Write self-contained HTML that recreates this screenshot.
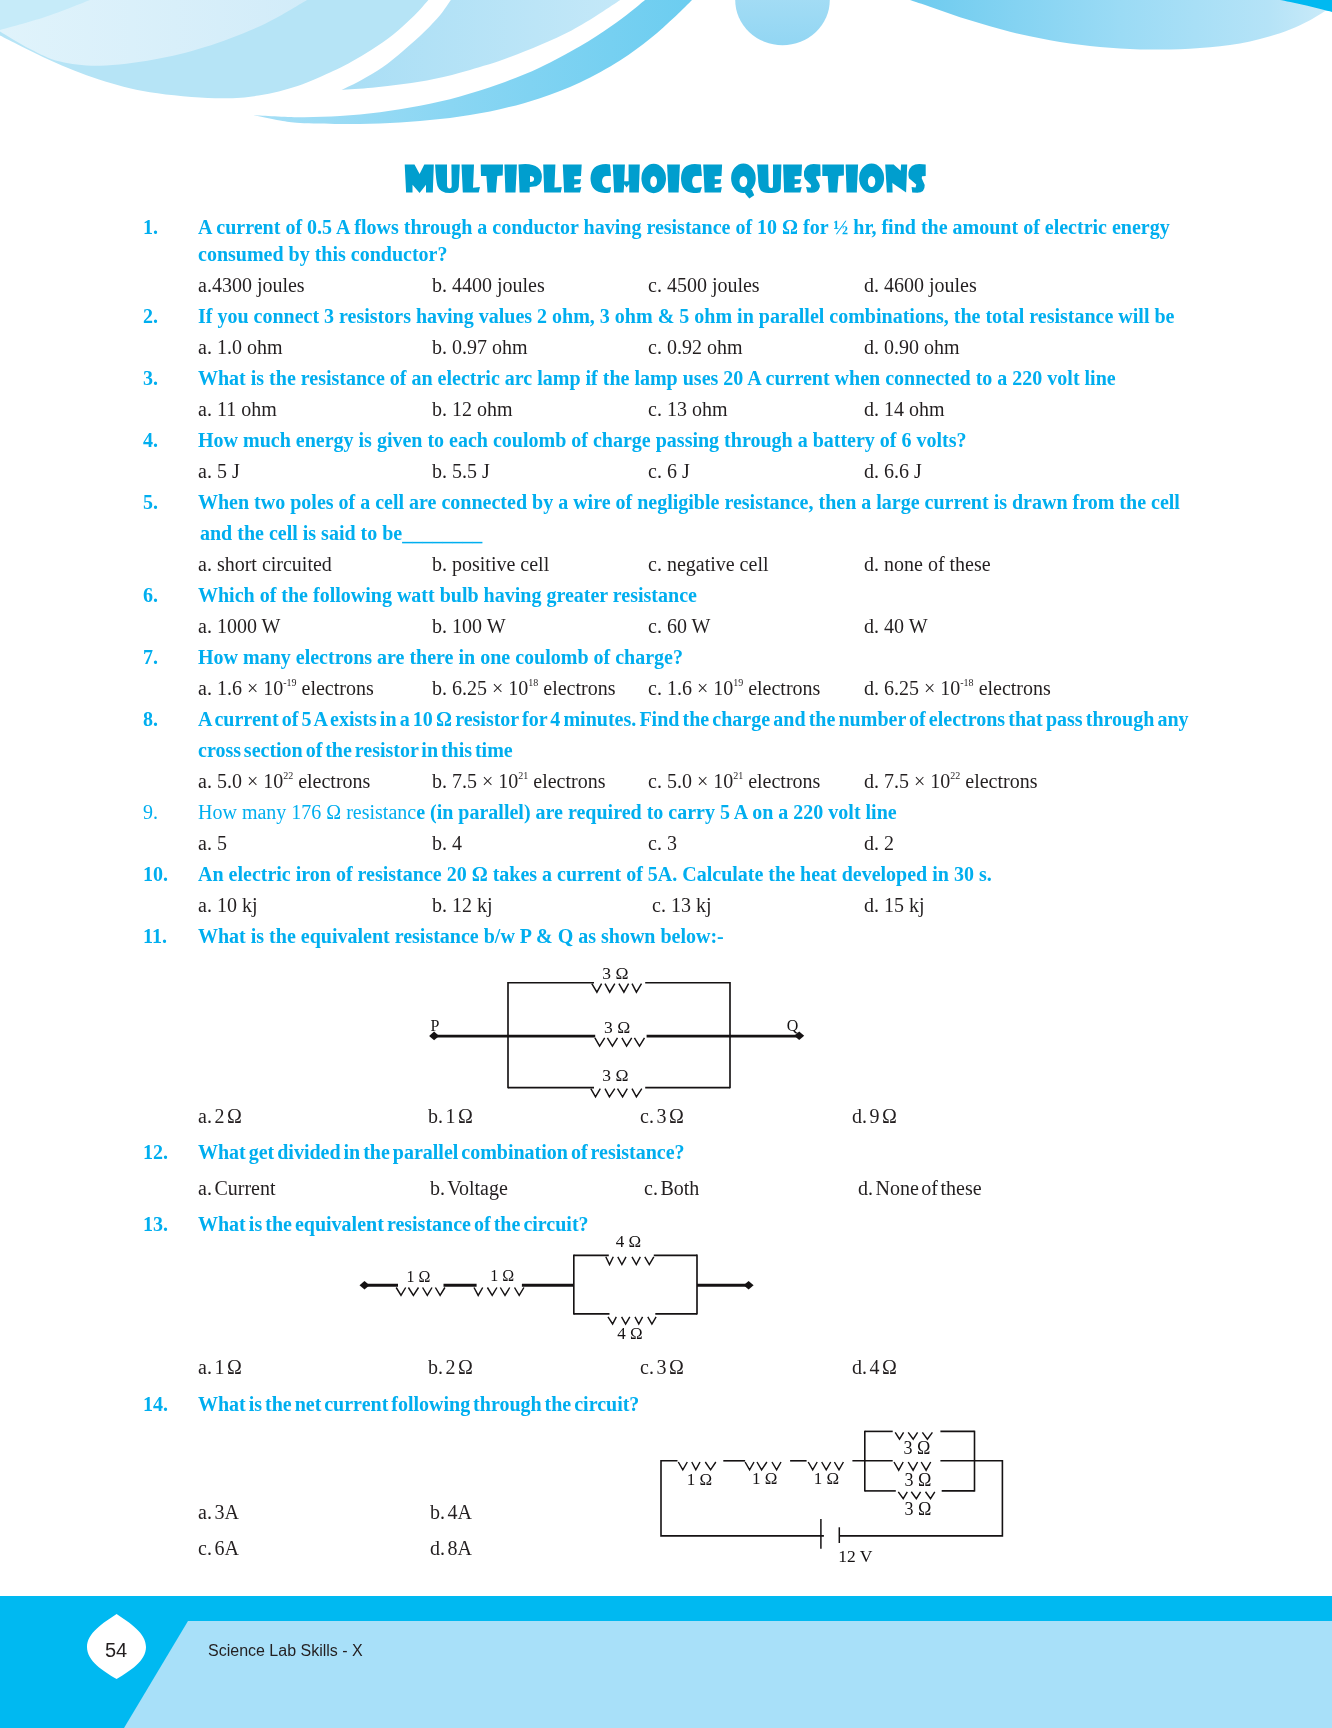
<!DOCTYPE html>
<html><head><meta charset="utf-8"><title>Multiple Choice Questions</title>
<style>
html,body{margin:0;padding:0;background:#fff;-webkit-font-smoothing:antialiased}
body{width:1332px;height:1728px;position:relative;overflow:hidden}
.t{will-change:transform;position:absolute;white-space:nowrap;font-family:"Liberation Serif",serif;font-size:20px;line-height:20px}
.b{font-weight:bold;color:#00aeef}
.r{font-weight:normal;color:#231f20}
.bl{color:#00aeef}
sup{font-size:10px;vertical-align:0;position:relative;top:-9px;line-height:0}
svg{position:absolute;left:0;top:0}
</style></head><body>
<svg width="1332" height="140" viewBox="0 0 1332 140">
<defs>
<linearGradient id="gC" x1="0" y1="0" x2="1" y2="0"><stop offset="0" stop-color="#a6dff6"/><stop offset="0.45" stop-color="#8ad6f3"/><stop offset="1" stop-color="#6ccdf0"/></linearGradient>
<linearGradient id="gE" x1="0" y1="0" x2="1" y2="0"><stop offset="0" stop-color="#6dcbef"/><stop offset="0.5" stop-color="#9bdbf5"/><stop offset="0.85" stop-color="#b5e3f7"/><stop offset="1" stop-color="#cbebf9"/></linearGradient>
<linearGradient id="gD" x1="0" y1="0" x2="0" y2="1"><stop offset="0" stop-color="#b3e2f6"/><stop offset="1" stop-color="#92d6f3"/></linearGradient>
<linearGradient id="gB" x1="0" y1="0" x2="1" y2="0"><stop offset="0" stop-color="#a9def5"/><stop offset="1" stop-color="#c4e8f8"/></linearGradient>
<linearGradient id="gCr" x1="0" y1="0" x2="1" y2="0"><stop offset="0" stop-color="#e0f3fb"/><stop offset="1" stop-color="#d2ecf9"/></linearGradient>
</defs>
<path d="M0 0 L428.4 0 C426.0 2.6 420.0 10.0 414.1 15.8 C408.2 21.6 400.0 29.1 393.0 34.7 C386.0 40.3 379.0 44.9 372.0 49.4 C365.0 53.9 358.0 58.1 351.0 62.0 C344.0 65.8 338.9 68.5 330.0 72.5 C321.1 76.5 309.5 82.1 297.6 85.9 C285.7 89.8 272.4 93.5 258.6 95.6 C244.8 97.6 233.1 98.8 215.0 98.2 C196.9 97.7 169.3 95.4 150.0 92.3 C130.7 89.2 115.8 85.0 99.0 79.6 C82.2 74.2 66.0 67.3 49.5 60.0 C33.0 52.7 8.2 39.7 0.0 35.6 Z" fill="#b6e4f6"/>
<path d="M0 31.5 C5.0 34.4 20.0 44.0 30.0 49.0 C40.0 54.0 48.3 58.8 60.0 61.6 C71.7 64.4 84.3 66.1 100.0 65.8 C115.7 65.5 136.5 62.6 154.0 59.5 C171.5 56.4 187.0 52.7 205.0 47.0 C223.0 41.3 245.0 33.0 262.0 25.2 C279.0 17.4 299.5 4.2 307.0 0.0 L0 0 Z" fill="url(#gCr)"/>
<path d="M0 0 L90 0 C82.5 2.8 60.0 12.0 45.0 17.0 C30.0 22.0 7.5 27.8 0.0 30.0 Z" fill="#c6ebf9"/>
<path d="M341.6 89.9 C344.9 88.2 354.7 83.7 361.5 79.9 C368.3 76.1 375.6 72.2 382.6 67.3 C389.6 62.4 396.6 56.5 403.6 50.5 C410.6 44.5 418.5 37.5 424.6 31.5 C430.7 25.5 436.0 19.9 440.4 14.7 C444.8 9.4 449.1 2.4 450.9 0.0 L620.3 0 C612.2 5.1 589.9 20.9 571.6 30.4 C553.4 39.9 527.7 50.2 510.8 56.8 C493.9 63.4 482.6 66.2 470.0 69.9 C457.4 73.6 446.2 76.4 435.1 78.8 C424.0 81.2 414.1 82.6 403.6 84.1 C393.1 85.6 382.3 86.8 372.0 87.8 C361.7 88.8 346.7 89.6 341.6 89.9 Z" fill="url(#gB)"/>
<path d="M253.7 115.2 C261.4 115.5 285.6 117.1 300.0 117.2 C314.4 117.3 326.7 116.9 340.0 116.1 C353.3 115.3 366.7 114.0 380.0 112.3 C393.3 110.6 406.7 108.4 420.0 105.8 C433.3 103.2 446.7 100.2 460.0 96.5 C473.3 92.8 486.7 88.6 500.0 83.8 C513.3 79.0 526.7 73.7 540.0 67.4 C553.3 61.2 568.3 53.0 580.0 46.3 C591.7 39.6 601.7 32.7 610.0 27.0 C618.3 21.3 624.2 16.7 630.0 12.2 C635.8 7.7 642.5 2.0 645.0 0.0 L692 0 C689.2 2.8 682.0 10.2 675.0 16.7 C668.0 23.1 659.2 31.4 650.0 38.7 C640.8 46.0 631.7 53.1 620.0 60.4 C608.3 67.7 593.3 76.1 580.0 82.4 C566.7 88.7 553.3 93.7 540.0 98.2 C526.7 102.7 513.3 106.2 500.0 109.2 C486.7 112.2 473.3 114.5 460.0 116.5 C446.7 118.5 433.3 119.8 420.0 121.0 C406.7 122.2 393.3 122.9 380.0 123.4 C366.7 123.9 353.3 124.0 340.0 124.0 C326.7 124.0 310.0 123.7 300.0 123.1 C290.0 122.5 287.7 121.8 280.0 120.5 C272.3 119.2 258.1 116.1 253.7 115.2 Z" fill="url(#gC)"/>
<ellipse cx="782.5" cy="0" rx="47.3" ry="45.2" fill="url(#gD)"/>
<path d="M910 0 C913.3 1.1 923.3 4.4 930.0 6.7 C936.7 9.0 943.3 11.4 950.0 13.7 C956.7 16.0 963.3 18.2 970.0 20.3 C976.7 22.4 983.3 24.4 990.0 26.3 C996.7 28.2 1003.3 30.0 1010.0 31.7 C1016.7 33.4 1023.3 34.9 1030.0 36.3 C1036.7 37.7 1043.3 39.0 1050.0 40.2 C1056.7 41.4 1063.3 42.5 1070.0 43.4 C1076.7 44.3 1083.3 45.2 1090.0 45.9 C1096.7 46.6 1103.3 47.2 1110.0 47.7 C1116.7 48.2 1123.3 48.6 1130.0 48.9 C1136.7 49.2 1143.3 49.4 1150.0 49.5 C1156.7 49.6 1163.3 49.6 1170.0 49.5 C1176.7 49.4 1183.3 49.2 1190.0 48.8 C1196.7 48.4 1203.3 47.9 1210.0 47.3 C1216.7 46.6 1223.3 45.9 1230.0 44.9 C1236.7 43.9 1243.3 42.8 1250.0 41.4 C1256.7 40.0 1263.3 38.3 1270.0 36.3 C1276.7 34.3 1283.3 32.2 1290.0 29.5 C1296.7 26.8 1303.3 23.8 1310.0 20.2 C1316.7 16.6 1326.7 10.1 1330.0 8.1 L1332 0 Z" fill="url(#gE)"/>
<path d="M1280 0 C1284.3 0.8 1295.4 3.0 1304.0 5.0 C1312.6 7.0 1327.3 10.8 1332.0 11.9 L1332 0 Z" fill="#00b9f1"/>
</svg>

<svg width="1332" height="220" style="position:absolute;left:0;top:0">
<g fill="#009ece" fill-rule="evenodd">
<path d="M404.7 164.4 L414.5 164.4 L419.6 173.9 L424.3 164.4 L433.8 164.4 L432.8 192.5 L426 192.5 L426 184.7 L419.6 193.1 L412.5 184.7 L412.5 192.5 L406.1 192.5 Z"/>
<path d="M435.1 164.4 L447 164.4 L447 185.5 Q447.3 188.4 449.5 188.4 Q451.7 188.4 451.7 185.5 L451.4 164.4 L459.8 164.4 L458.8 187 Q458 193.1 450 193.1 Q440 193.1 437.5 186 Q436 181 435.1 164.4 Z"/>
<path d="M461.5 164.4 L474 164.4 L473 187.7 L480 187 L478.7 192.5 L462.8 192.5 Z"/>
<path d="M480.7 164.4 L503 164.4 L502.7 175.6 L497.3 175.9 L495.9 192.5 L487.5 192.5 L486.4 175.9 L481 175.9 Z"/>
<path d="M504.4 164.4 L516.9 164.4 L515.5 192.5 L505.4 192.5 Z"/>
<path d="M518.5 164.4 L525.3 164 Q541.9 164.4 541.9 176.9 Q541.9 186.7 532 186.7 L529.7 187 L529.7 192.5 L519.6 192.5 Z M530 175.9 Q534.1 176 534.1 178.8 Q534.1 182 530 182 Z"/>
<path d="M543.2 164.4 L555.4 164.4 L554.4 187.4 L561.8 187 L560.8 192.5 L544.2 192.5 Z"/>
<path d="M562.8 164.4 L581.7 164.4 L581 175.9 L574.2 176.2 L574.2 179.3 L581 179.3 L580 184 L574.2 184.4 L574.2 187.7 L581.3 187 L580 192.5 L564.1 192.5 Z"/>
<path d="M610 164.4 L611 175.9 L606 175.9 Q602 176.5 602 181.6 Q602.5 187.7 606.7 187.7 L611 187 L610 192.5 Q607 193.1 604.6 193.1 Q590.5 192 590.5 178.3 Q591 164.1 606 164.1 Z"/>
<path d="M612.8 164.4 L624.9 164.4 L624.2 181.3 L628.6 181.3 L628.6 164.4 L639.8 164.4 L638.8 192.5 L629.3 192.5 L629.2 184.2 L626.6 187.6 L624.2 184.2 L623.6 192.5 L614.1 192.5 Z"/>
<path d="M666 178.4 A12.3 14.7 0 1 1 641.4 178.4 A12.3 14.7 0 1 1 666 178.4 Z M657 181.5 A3.4 5.6 0 1 0 650.2 181.5 A3.4 5.6 0 1 0 657 181.5 Z"/>
<path d="M667.1 164.4 L679.9 164.4 L678.6 192.5 L668.4 192.5 Z"/>
<path d="M700.9 164.4 L701.9 175.9 L695.5 175.9 Q692.1 176.5 692.1 181.6 Q692.5 187.7 695.5 187.7 L701.9 187 L700.2 192.5 Q697 193.1 693.4 193.1 Q681 192 681 178.3 Q681.5 164.1 694.8 164.1 Z"/>
<path d="M703.2 164.4 L722.1 164.4 L721.5 175.9 L714.7 176.2 L714.7 179.3 L721.1 179.3 L720.5 183.7 L714.7 184 L714.7 187.7 L721.8 187 L720.8 192.5 L704.6 192.5 Z"/>
<path d="M755.7 178.3 A12.3 14.8 0 1 1 731.1 178.3 A12.3 14.8 0 1 1 755.7 178.3 Z M747.3 181.5 A3.9 5.6 0 1 0 739.5 181.5 A3.9 5.6 0 1 0 747.3 181.5 Z"/>
<path d="M744.5 190.5 L752 190 L754.2 195.2 L749.3 198.5 L745.5 194 Z"/>
<path d="M757.1 164.4 L768.2 164.4 L768.6 186 Q769 188 771.6 188 Q773 188 773 186 L773 164.4 L781.4 164.4 L780.7 189 Q779 193.1 771.6 193.1 Q763 193 760.8 190.4 Q758.1 187 758.1 178.3 Z"/>
<path d="M783.1 164.4 L802 164.4 L801.4 175.9 L794.6 176.2 L794.6 179.3 L801 179.3 L800 183.7 L794.6 184 L794.6 187.7 L801.7 187 L800.3 192.5 L784.1 192.5 Z"/>
<path d="M820.3 164.4 L820.6 175.9 L816.2 176.2 L816.2 178.3 L819 183 Q820.5 186.4 819.6 187.5 Q818 192.8 811.5 192.8 L807.4 192.5 L806.1 187 L810.8 187.4 L811.1 185 L805 179 Q803.5 176 804 171.5 Q806 164.1 813.5 164.1 Z"/>
<path d="M822.3 164.4 L843.9 164.4 L843.9 175.6 L838.5 175.9 L837.2 192.5 L828.7 192.5 L827.7 175.9 L822.3 175.9 Z"/>
<path d="M845.6 164.4 L858.1 164.4 L856.8 192.5 L846.6 192.5 Z"/>
<path d="M884.1 178.3 A12.5 14.8 0 1 1 859.1 178.3 A12.5 14.8 0 1 1 884.1 178.3 Z M875.3 181.5 A3.7 5.6 0 1 0 867.9 181.5 A3.7 5.6 0 1 0 875.3 181.5 Z"/>
<path d="M885.2 164.4 L893.6 164.4 L900.7 170.8 L901.1 164.4 L907.2 164.4 L906.1 192.5 L892.3 183 L892.6 192.5 L886.9 192.5 Z"/>
<path d="M925.7 164.4 L925.7 175.9 L922 176.2 L921.7 178.3 L924.7 185 Q925 192.8 917.3 192.8 L912.2 192.5 L911.6 187 L915.6 187.4 L916.3 184.4 L909 178.3 Q908 175 908.5 172.2 Q910 163.9 919.3 163.9 Z"/>
</g>
</svg>

<div class="t b" style="left:143px;top:217px;">1.</div>
<div class="t b" style="left:198px;top:217px;">A current of 0.5 A flows through a conductor having resistance of 10 Ω for ½ hr, find the amount of electric energy</div>
<div class="t b" style="left:198px;top:244px;">consumed by this conductor?</div>
<div class="t r" style="left:198px;top:274.5px;">a.4300 joules</div>
<div class="t r" style="left:432px;top:274.5px;">b. 4400 joules</div>
<div class="t r" style="left:648px;top:274.5px;">c. 4500 joules</div>
<div class="t r" style="left:864px;top:274.5px;">d. 4600 joules</div>
<div class="t b" style="left:143px;top:306px;">2.</div>
<div class="t b" style="left:198px;top:306px;">If you connect 3 resistors having values 2 ohm, 3 ohm &amp; 5 ohm in parallel combinations, the total resistance will be</div>
<div class="t r" style="left:198px;top:337px;">a. 1.0 ohm</div>
<div class="t r" style="left:432px;top:337px;">b. 0.97 ohm</div>
<div class="t r" style="left:648px;top:337px;">c. 0.92 ohm</div>
<div class="t r" style="left:864px;top:337px;">d. 0.90 ohm</div>
<div class="t b" style="left:143px;top:368px;">3.</div>
<div class="t b" style="left:198px;top:368px;">What is the resistance of an electric arc lamp if the lamp uses 20 A current when connected to a 220 volt line</div>
<div class="t r" style="left:198px;top:399px;">a. 11 ohm</div>
<div class="t r" style="left:432px;top:399px;">b. 12 ohm</div>
<div class="t r" style="left:648px;top:399px;">c. 13 ohm</div>
<div class="t r" style="left:864px;top:399px;">d. 14 ohm</div>
<div class="t b" style="left:143px;top:429.5px;">4.</div>
<div class="t b" style="left:198px;top:429.5px;">How much energy is given to each coulomb of charge passing through a battery of 6 volts?</div>
<div class="t r" style="left:198px;top:460.5px;">a. 5 J</div>
<div class="t r" style="left:432px;top:460.5px;">b. 5.5 J</div>
<div class="t r" style="left:648px;top:460.5px;">c. 6 J</div>
<div class="t r" style="left:864px;top:460.5px;">d. 6.6 J</div>
<div class="t b" style="left:143px;top:492px;">5.</div>
<div class="t b" style="left:198px;top:492px;">When two poles of a cell are connected by a wire of negligible resistance, then a large current is drawn from the cell</div>
<div class="t b" style="left:200px;top:522.5px;">and the cell is said to be________</div>
<div class="t r" style="left:198px;top:553.5px;">a. short circuited</div>
<div class="t r" style="left:432px;top:553.5px;">b. positive cell</div>
<div class="t r" style="left:648px;top:553.5px;">c. negative cell</div>
<div class="t r" style="left:864px;top:553.5px;">d. none of these</div>
<div class="t b" style="left:143px;top:584.5px;">6.</div>
<div class="t b" style="left:198px;top:584.5px;">Which of the following watt bulb having greater resistance</div>
<div class="t r" style="left:198px;top:615.5px;">a. 1000 W</div>
<div class="t r" style="left:432px;top:615.5px;">b. 100 W</div>
<div class="t r" style="left:648px;top:615.5px;">c. 60 W</div>
<div class="t r" style="left:864px;top:615.5px;">d. 40 W</div>
<div class="t b" style="left:143px;top:646.5px;">7.</div>
<div class="t b" style="left:198px;top:646.5px;">How many electrons are there in one coulomb of charge?</div>
<div class="t r" style="left:198px;top:677.5px;">a. 1.6 × 10<sup>-19</sup> electrons</div>
<div class="t r" style="left:432px;top:677.5px;">b. 6.25 × 10<sup>18</sup> electrons</div>
<div class="t r" style="left:648px;top:677.5px;">c. 1.6 × 10<sup>19</sup> electrons</div>
<div class="t r" style="left:864px;top:677.5px;">d. 6.25 × 10<sup>-18</sup> electrons</div>
<div class="t b" style="left:143px;top:708.5px;">8.</div>
<div class="t b" style="left:198px;top:708.5px;word-spacing:-1.85px">A current of 5 A exists in a 10 Ω resistor for 4 minutes. Find the charge and the number of electrons that pass through any</div>
<div class="t b" style="left:198px;top:739.5px;word-spacing:-2.1px">cross section of the resistor in this time</div>
<div class="t r" style="left:198px;top:770.5px;">a. 5.0 × 10<sup>22</sup> electrons</div>
<div class="t r" style="left:432px;top:770.5px;">b. 7.5 × 10<sup>21</sup> electrons</div>
<div class="t r" style="left:648px;top:770.5px;">c. 5.0 × 10<sup>21</sup> electrons</div>
<div class="t r" style="left:864px;top:770.5px;">d. 7.5 × 10<sup>22</sup> electrons</div>
<div class="t r bl" style="left:143px;top:801.5px;">9.</div>
<div class="t r bl" style="left:198px;top:801.5px;">How many 176 Ω resistanc<b>e (in parallel) are required to carry 5 A on a 220 volt line</b></div>
<div class="t r" style="left:198px;top:832.5px;">a. 5</div>
<div class="t r" style="left:432px;top:832.5px;">b. 4</div>
<div class="t r" style="left:648px;top:832.5px;">c. 3</div>
<div class="t r" style="left:864px;top:832.5px;">d. 2</div>
<div class="t b" style="left:143px;top:863.5px;">10.</div>
<div class="t b" style="left:198px;top:863.5px;">An electric iron of resistance 20 Ω takes a current of 5A. Calculate the heat developed in 30 s.</div>
<div class="t r" style="left:198px;top:894.5px;">a. 10 kj</div>
<div class="t r" style="left:432px;top:894.5px;">b. 12 kj</div>
<div class="t r" style="left:652px;top:894.5px;">c. 13 kj</div>
<div class="t r" style="left:864px;top:894.5px;">d. 15 kj</div>
<div class="t b" style="left:143px;top:925.5px;">11.</div>
<div class="t b" style="left:198px;top:925.5px;">What is the equivalent resistance b/w P &amp; Q as shown below:-</div>
<div class="t r" style="left:198px;top:1105.5px;word-spacing:-2.5px">a. 2 Ω</div>
<div class="t r" style="left:428px;top:1105.5px;word-spacing:-2.5px">b. 1 Ω</div>
<div class="t r" style="left:640px;top:1105.5px;word-spacing:-2.5px">c. 3 Ω</div>
<div class="t r" style="left:852px;top:1105.5px;word-spacing:-2.5px">d. 9 Ω</div>
<div class="t b" style="left:143px;top:1141.5px;">12.</div>
<div class="t b" style="left:198px;top:1141.5px;word-spacing:-2.05px">What get divided in the parallel combination of resistance?</div>
<div class="t r" style="left:198px;top:1177.5px;word-spacing:-2.5px">a. Current</div>
<div class="t r" style="left:430px;top:1177.5px;word-spacing:-2.5px">b. Voltage</div>
<div class="t r" style="left:644px;top:1177.5px;word-spacing:-2.5px">c. Both</div>
<div class="t r" style="left:858px;top:1177.5px;word-spacing:-2.5px">d. None of these</div>
<div class="t b" style="left:143px;top:1213.5px;">13.</div>
<div class="t b" style="left:198px;top:1213.5px;word-spacing:-1.95px">What is the equivalent resistance of the circuit?</div>
<div class="t r" style="left:198px;top:1357px;word-spacing:-2.5px">a. 1 Ω</div>
<div class="t r" style="left:428px;top:1357px;word-spacing:-2.5px">b. 2 Ω</div>
<div class="t r" style="left:640px;top:1357px;word-spacing:-2.5px">c. 3 Ω</div>
<div class="t r" style="left:852px;top:1357px;word-spacing:-2.5px">d. 4 Ω</div>
<div class="t b" style="left:143px;top:1393.5px;">14.</div>
<div class="t b" style="left:198px;top:1393.5px;word-spacing:-2.05px">What is the net current following through the circuit?</div>
<div class="t r" style="left:198px;top:1501.5px;word-spacing:-2.5px">a. 3A</div>
<div class="t r" style="left:430px;top:1501.5px;word-spacing:-2.5px">b. 4A</div>
<div class="t r" style="left:198px;top:1537.5px;word-spacing:-2.5px">c. 6A</div>
<div class="t r" style="left:430px;top:1537.5px;word-spacing:-2.5px">d. 8A</div>

<svg width="1332" height="1728" style="position:absolute;left:0;top:0">
<line x1="508" y1="982.7" x2="594" y2="982.7" stroke="#151213" stroke-width="1.65"/>
<line x1="645.2" y1="982.7" x2="730" y2="982.7" stroke="#151213" stroke-width="1.65"/>
<line x1="508" y1="982.0" x2="508" y2="1088.3" stroke="#151213" stroke-width="1.65"/>
<line x1="730" y1="982.0" x2="730" y2="1088.3" stroke="#151213" stroke-width="1.65"/>
<line x1="508" y1="1087.6" x2="594" y2="1087.6" stroke="#151213" stroke-width="1.65"/>
<line x1="645.2" y1="1087.6" x2="730" y2="1087.6" stroke="#151213" stroke-width="1.65"/>
<path d="M591.8 983.6 L596.9 992.2 L601.6 983.6 M605 983.6 L609.7 992.2 L614.8 983.6 M618.9 983.6 L623.9 992.2 L628.6 983.6 M632 983.6 L636.4 992.2 L641.5 983.6 " fill="none" stroke="#151213" stroke-width="1.45"/>
<path d="M590.8 1088.6 L595.5 1096.8 L600.3 1088.6 M605 1088.6 L609.4 1096.8 L614.8 1088.6 M617.5 1088.6 L622.6 1096.8 L627.3 1088.6 M632 1088.6 L636.4 1096.8 L641.8 1088.6 " fill="none" stroke="#151213" stroke-width="1.45"/>
<line x1="434" y1="1036.1" x2="595.2" y2="1036.1" stroke="#151213" stroke-width="2.8"/>
<line x1="646.6" y1="1036.1" x2="799" y2="1036.1" stroke="#151213" stroke-width="2.8"/>
<path d="M594.9 1037.8 L599.6 1046.1 L604.7 1037.8 M607.4 1037.8 L612.4 1046.1 L617.5 1037.8 M621.9 1037.8 L626.6 1046.1 L631.7 1037.8 M634.4 1037.8 L639.5 1046.1 L644.5 1037.8 " fill="none" stroke="#151213" stroke-width="1.45"/>
<polygon points="429.1,1035.9 434.1,1031.6000000000001 439.1,1035.9 434.1,1040.2" fill="#151213"/>
<polygon points="794.2,1035.8 799.2,1031.5 804.2,1035.8 799.2,1040.1" fill="#151213"/>
<text x="602.3" y="978.8" font-family="Liberation Serif" font-size="17.5" fill="#151213">3 Ω</text>
<text x="604.0" y="1032.6" font-family="Liberation Serif" font-size="17.5" fill="#151213">3 Ω</text>
<text x="602.3" y="1080.6" font-family="Liberation Serif" font-size="17.5" fill="#151213">3 Ω</text>
<text x="430.5" y="1030.6" font-family="Liberation Serif" font-size="16" fill="#151213">P</text>
<text x="786.8" y="1030.7" font-family="Liberation Serif" font-size="16" fill="#151213">Q</text>
<polygon points="359.5,1285.2 364.5,1281.0 369.5,1285.2 364.5,1289.4" fill="#151213"/>
<polygon points="743.6,1285.3 748.6,1281.1 753.6,1285.3 748.6,1289.5" fill="#151213"/>
<line x1="364.5" y1="1285.2" x2="398" y2="1285.2" stroke="#151213" stroke-width="3.0"/>
<line x1="443.5" y1="1285.2" x2="476.6" y2="1285.2" stroke="#151213" stroke-width="3.0"/>
<line x1="521.9" y1="1285.2" x2="574" y2="1285.2" stroke="#151213" stroke-width="3.0"/>
<line x1="697" y1="1285.2" x2="748.4" y2="1285.2" stroke="#151213" stroke-width="3.0"/>
<path d="M396.2 1287.5 L401 1295.4 L405.7 1287.5 M408.4 1287.5 L413.4 1295.4 L418.5 1287.5 M422.6 1287.5 L427.3 1295.4 L432 1287.5 M435.4 1287.5 L440.1 1295.4 L444.9 1287.5 " fill="none" stroke="#151213" stroke-width="1.45"/>
<path d="M474 1287.5 L478.2 1295.4 L482.7 1287.5 M487.4 1287.5 L492.2 1295.4 L496.9 1287.5 M500.3 1287.5 L505 1295.4 L509.7 1287.5 M514.5 1287.5 L519.2 1295.4 L523.9 1287.5 " fill="none" stroke="#151213" stroke-width="1.45"/>
<line x1="573.8" y1="1254.6" x2="573.8" y2="1314.6" stroke="#151213" stroke-width="1.65"/>
<line x1="697" y1="1254.6" x2="697" y2="1314.6" stroke="#151213" stroke-width="1.65"/>
<line x1="573.8" y1="1255.3" x2="608.8" y2="1255.3" stroke="#151213" stroke-width="1.65"/>
<line x1="653.8" y1="1255.3" x2="697" y2="1255.3" stroke="#151213" stroke-width="1.65"/>
<line x1="573.8" y1="1313.9" x2="609.5" y2="1313.9" stroke="#151213" stroke-width="1.65"/>
<line x1="655.3" y1="1313.9" x2="697" y2="1313.9" stroke="#151213" stroke-width="1.65"/>
<path d="M605.8 1256.8 L609.5 1264.5 L613.3 1256.8 M617.8 1256.8 L621.9 1264.5 L626 1256.8 M632 1256.8 L636.3 1264.5 L640.3 1256.8 M644.8 1256.8 L649.3 1264.5 L653.8 1256.8 " fill="none" stroke="#151213" stroke-width="1.45"/>
<path d="M608 1316.9 L612.6 1324 L616.3 1316.9 M621.6 1316.9 L625.6 1324 L629.8 1316.9 M635 1316.9 L638.8 1324 L642.6 1316.9 M647.8 1316.9 L651.9 1324 L656.1 1316.9 " fill="none" stroke="#151213" stroke-width="1.45"/>
<text x="406.5" y="1281.6" font-family="Liberation Serif" font-size="16" fill="#151213">1 Ω</text>
<text x="490.3" y="1281.2" font-family="Liberation Serif" font-size="16" fill="#151213">1 Ω</text>
<text x="615.8" y="1246.8" font-family="Liberation Serif" font-size="17" fill="#151213">4 Ω</text>
<text x="617.3" y="1339.1" font-family="Liberation Serif" font-size="17" fill="#151213">4 Ω</text>
<polyline points="677.5,1460.8 661,1460.8 661,1535.9 823.9,1535.9" fill="none" stroke="#151213" stroke-width="1.6" stroke-linejoin="miter"/>
<polyline points="839.3,1535.9 1002.4,1535.9 1002.4,1460.8 940.4,1460.8" fill="none" stroke="#151213" stroke-width="1.6" stroke-linejoin="miter"/>
<line x1="723.3" y1="1460.8" x2="745.1" y2="1460.8" stroke="#151213" stroke-width="1.6"/>
<line x1="790.1" y1="1460.8" x2="806.6" y2="1460.8" stroke="#151213" stroke-width="1.6"/>
<line x1="852.4" y1="1460.8" x2="892.7" y2="1460.8" stroke="#151213" stroke-width="1.6"/>
<path d="M678.3 1462.0 L682.8 1469.8 L687.3 1462.0 M691.8 1462.0 L695.8 1469.8 L700 1462.0 M705.3 1462.0 L710.6 1469.8 L715.8 1462.0 " fill="none" stroke="#151213" stroke-width="1.45"/>
<path d="M745.1 1462.0 L749.6 1469.8 L754 1462.0 M757 1462.0 L761.6 1469.8 L766.9 1462.0 M772 1462.0 L776.6 1469.8 L781 1462.0 " fill="none" stroke="#151213" stroke-width="1.45"/>
<path d="M808.2 1462.0 L812.7 1469.8 L817.2 1462.0 M821.7 1462.0 L826.2 1469.8 L830.7 1462.0 M834.4 1462.0 L839 1469.8 L843.4 1462.0 " fill="none" stroke="#151213" stroke-width="1.45"/>
<path d="M894 1462.0 L898.7 1470.2 L903.2 1462.0 M908.2 1462.0 L913.1 1470.2 L917.6 1462.0 M921.2 1462.0 L926.1 1470.2 L930.7 1462.0 " fill="none" stroke="#151213" stroke-width="1.45"/>
<line x1="864.8" y1="1430.7" x2="864.8" y2="1491.6" stroke="#151213" stroke-width="1.6"/>
<line x1="974.5" y1="1430.7" x2="974.5" y2="1491.6" stroke="#151213" stroke-width="1.6"/>
<line x1="864.8" y1="1431.4" x2="892.7" y2="1431.4" stroke="#151213" stroke-width="1.6"/>
<line x1="940.4" y1="1431.4" x2="974.5" y2="1431.4" stroke="#151213" stroke-width="1.6"/>
<line x1="864.8" y1="1490.9" x2="895.8" y2="1490.9" stroke="#151213" stroke-width="1.6"/>
<line x1="941.7" y1="1490.9" x2="974.5" y2="1490.9" stroke="#151213" stroke-width="1.6"/>
<path d="M895.2 1432.4 L899.5 1439.2 L903.6 1432.4 M908.2 1432.4 L913.2 1439.2 L917.6 1432.4 M922.4 1432.4 L927.4 1439.2 L932.4 1432.4 " fill="none" stroke="#151213" stroke-width="1.45"/>
<path d="M898.3 1491.8 L903.2 1498.7 L907.3 1491.8 M911.3 1491.8 L916.3 1498.7 L920.6 1491.8 M925.5 1491.8 L930.5 1498.7 L934.8 1491.8 " fill="none" stroke="#151213" stroke-width="1.45"/>
<line x1="820.9" y1="1519" x2="820.9" y2="1548.8" stroke="#151213" stroke-width="1.5"/>
<line x1="839.3" y1="1527.3" x2="839.3" y2="1543" stroke="#151213" stroke-width="1.5"/>
<text x="686.8" y="1484.8" font-family="Liberation Serif" font-size="17" fill="#151213">1 Ω</text>
<text x="752.1" y="1483.7" font-family="Liberation Serif" font-size="17" fill="#151213">1 Ω</text>
<text x="813.7" y="1483.7" font-family="Liberation Serif" font-size="17" fill="#151213">1 Ω</text>
<text x="903.4" y="1453.7" font-family="Liberation Serif" font-size="18" fill="#151213">3 Ω</text>
<text x="904.6" y="1486.3" font-family="Liberation Serif" font-size="18" fill="#151213">3 Ω</text>
<text x="904.5" y="1514.8" font-family="Liberation Serif" font-size="18" fill="#151213">3 Ω</text>
<text x="838.3" y="1561.7" font-family="Liberation Serif" font-size="17.5" fill="#151213">12 V</text>
</svg>

<svg width="1332" height="1728" style="position:absolute;left:0;top:0">
<rect x="0" y="1596" width="1332" height="132" fill="#00b9f1"/>
<polygon points="188,1621 1332,1621 1332,1728 124,1728" fill="#a8e0f9"/>
<path d="M116.6 1614 C130 1623 146 1633 146 1647 C146 1661 130 1671 116.6 1679 C103 1671 87 1661 87 1647 C87 1633 103 1623 116.6 1614 Z" fill="#ffffff"/>
</svg>
<div style="position:absolute;left:105px;top:1640px;font-family:'Liberation Sans',sans-serif;font-size:20px;line-height:20px;color:#231f20;white-space:nowrap">54</div>
<div style="position:absolute;left:208px;top:1643px;font-family:'Liberation Sans',sans-serif;font-size:16px;line-height:16px;color:#231f20;white-space:nowrap">Science Lab Skills - X</div>

</body></html>
